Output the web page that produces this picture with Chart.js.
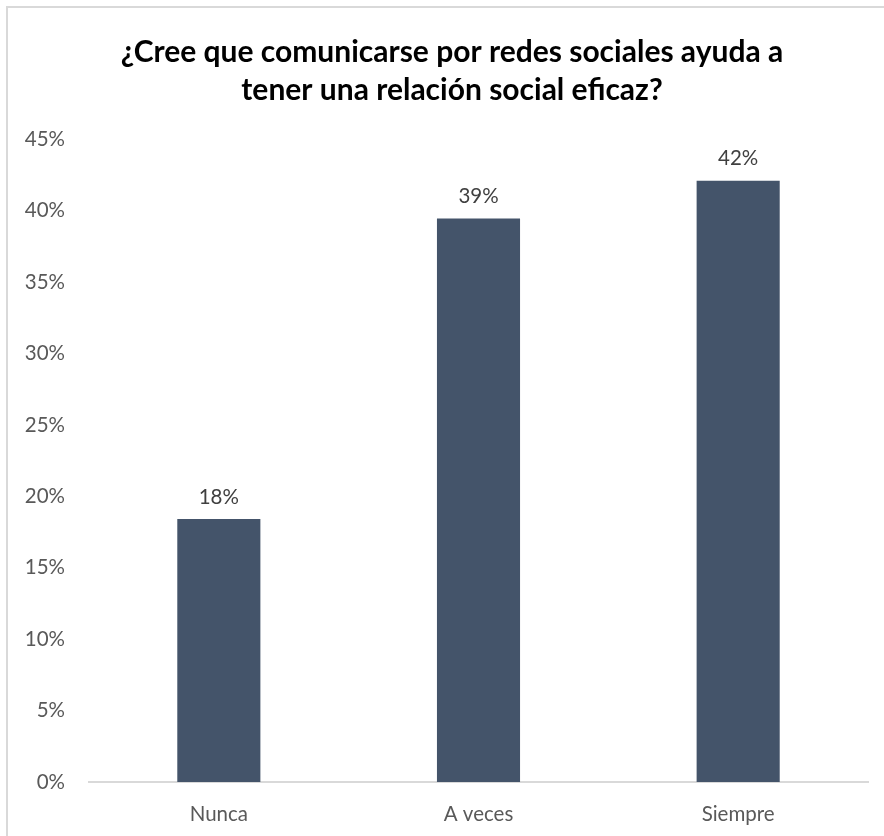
<!DOCTYPE html>
<html>
<head>
<meta charset="utf-8">
<script src="https://cdn.jsdelivr.net/npm/chart.js@4/dist/chart.umd.min.js"></script>
<style>
  html, body { margin: 0; padding: 0; background: #fff; overflow: hidden; }
  #wrap { position: relative; width: 884px; height: 836px; }
  #frame {
    position: absolute; left: 6px; top: 6px; width: 1000px; height: 1000px;
    border-left: 2px solid #d9d9d9; border-top: 2px solid #d9d9d9;
  }
  #chart { position: absolute; left: 0; top: 0; }
</style>
</head>
<body>
<div id="wrap">
  <div id="frame"></div>
  <canvas id="chart" width="884" height="836"></canvas>
</div>
<script>
// respuestas de la encuesta (porcentaje del total)
const categorias = ['Nunca', 'A veces', 'Siempre'];
const porcentajes = [18.42, 39.47, 42.11];
const ticksY = [0, 5, 10, 15, 20, 25, 30, 35, 40, 45];
const titulo = ['¿Cree que comunicarse por redes sociales ayuda a', 'tener una relación social eficaz?'];

const FUENTE = 'Lato, Calibri, sans-serif';

// título centrado sobre el marco completo (no sobre el área del gráfico)
const tituloCentrado = {
  id: 'tituloCentrado',
  afterDraw(chart) {
    const ctx = chart.ctx;
    ctx.save();
    ctx.font = 'bold 30px ' + FUENTE;
    ctx.fillStyle = '#000';
    ctx.textAlign = 'center';
    ctx.textBaseline = 'middle';
    titulo.forEach((linea, i) => ctx.fillText(linea, 452, 52 + i * 38));
    ctx.restore();
  }
};

// etiquetas de valor encima de cada barra
const etiquetasBarras = {
  id: 'etiquetasBarras',
  afterDatasetsDraw(chart) {
    const ctx = chart.ctx;
    const meta = chart.getDatasetMeta(0);
    ctx.save();
    ctx.font = '20.5px ' + FUENTE;
    ctx.fillStyle = '#404040';
    ctx.textAlign = 'center';
    ctx.textBaseline = 'middle';
    meta.data.forEach((bar, i) => {
      const v = chart.data.datasets[0].data[i];
      ctx.fillText(Math.round(v) + '%', bar.x, bar.y - 22);
    });
    ctx.restore();
  }
};

new Chart(document.getElementById('chart'), {
  type: 'bar',
  data: {
    labels: categorias,
    datasets: [{
      data: porcentajes,
      backgroundColor: '#44546a',
      categoryPercentage: 1,
      barPercentage: 0.32
    }]
  },
  options: {
    responsive: false,
    animation: false,
    layout: { padding: { left: 0, right: 16, top: 139.5, bottom: 0 } },
    plugins: {
      legend: { display: false },
      tooltip: { enabled: false },
      title: { display: false }
    },
    scales: {
      x: {
        afterFit(scale) { scale.height = 54; },
        grid: { display: false, drawTicks: false },
        border: { display: true, color: '#d9d9d9', width: 2 },
        ticks: { color: '#595959', font: { family: FUENTE, size: 20.5 }, padding: 20 }
      },
      y: {
        min: 0,
        max: 45,
        afterFit(scale) { scale.width = 89; },
        afterBuildTicks(scale) { scale.ticks = ticksY.map(v => ({ value: v })); },
        grid: { display: false, drawTicks: false },
        border: { display: false },
        ticks: {
          color: '#595959',
          font: { family: FUENTE, size: 20.5 },
          padding: 24,
          callback: v => v + '%'
        }
      }
    }
  },
  plugins: [etiquetasBarras, tituloCentrado]
});
</script>
</body>
</html>
